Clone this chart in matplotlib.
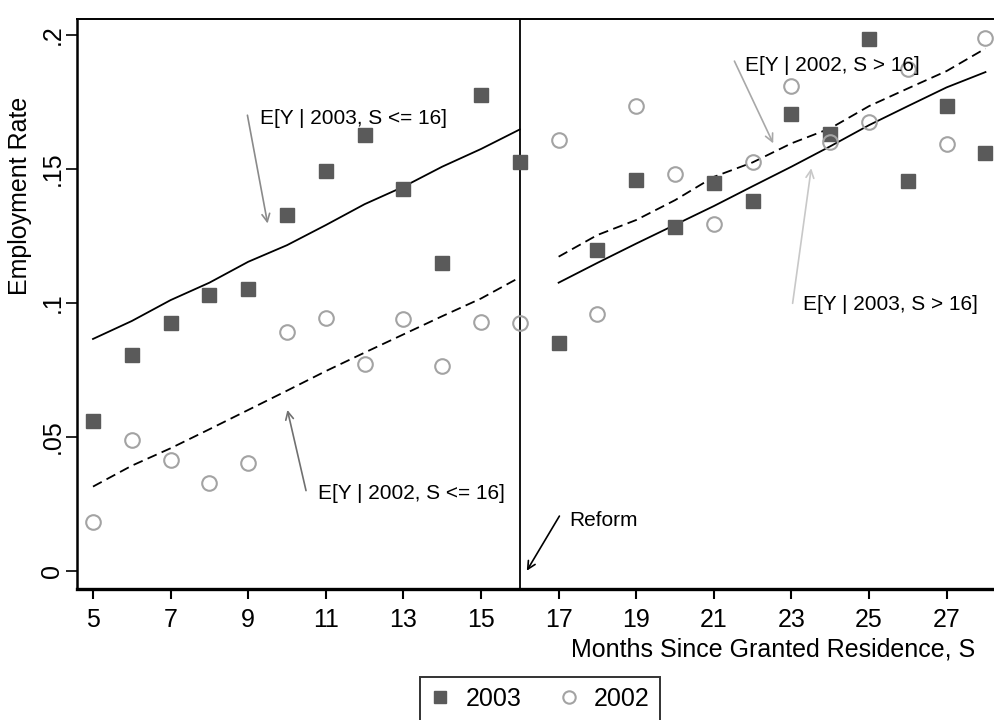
import matplotlib
matplotlib.use("Agg")
import matplotlib.pyplot as plt

plt.rcParams['font.family'] = ['Liberation Sans', 'DejaVu Sans']

months = list(range(5, 29))
emp_2003 = [0.0561, 0.0806, 0.0927, 0.1031, 0.1053, 0.1328, 0.1491, 0.1626,
            0.1424, 0.1149, 0.1775, 0.1527, 0.0852, 0.1198, 0.1459, 0.1282,
            0.1449, 0.1381, 0.1705, 0.1631, 0.1984, 0.1455, 0.1735, 0.1560]
emp_2002 = [0.0182, 0.0490, 0.0413, 0.0327, 0.0402, 0.0892, 0.0945, 0.0774,
            0.0942, 0.0766, 0.0929, 0.0927, 0.1608, 0.0959, 0.1735, 0.1481,
            0.1295, 0.1526, 0.1810, 0.1602, 0.1675, 0.1872, 0.1593, 0.1990]

months_pre = list(range(5, 17))
fit_2003_pre = [0.0866, 0.0933, 0.1011, 0.1076, 0.1154, 0.1216, 0.1291,
                0.1369, 0.1434, 0.1509, 0.1575, 0.1648]
fit_2002_pre = [0.0315, 0.0393, 0.0458, 0.0529, 0.0601, 0.0673, 0.0746,
                0.0815, 0.0883, 0.0951, 0.1017, 0.1096]
months_post = list(range(17, 29))
fit_2003_post = [0.1076, 0.1150, 0.1222, 0.1292, 0.1362, 0.1436, 0.1509,
                 0.1585, 0.1664, 0.1735, 0.1805, 0.1862]
fit_2002_post = [0.1173, 0.1254, 0.1310, 0.1384, 0.1471, 0.1525, 0.1596,
                 0.1652, 0.1735, 0.1801, 0.1866, 0.1950]

xticks = [5, 7, 9, 11, 13, 15, 17, 19, 21, 23, 25, 27]
yticks = [0, 0.05, 0.1, 0.15, 0.2]
ytick_labels = ['0', '.05', '.1', '.15', '.2']
reform_month = 16

fig = plt.figure(figsize=(9.94, 7.2), dpi=100)
ax = fig.add_axes([77 / 994, 131 / 720, 917 / 994, 569.7 / 720])

sq_color = '#5a5a5a'
ci_color = '#a3a3a3'

ax.plot(months_pre, fit_2003_pre, color='black', lw=1.3, zorder=2)
ax.plot(months_pre, fit_2002_pre, color='black', lw=1.3, ls=(0, (5.5, 3)), zorder=2)
ax.plot(months_post, fit_2003_post, color='black', lw=1.3, zorder=2)
ax.plot(months_post, fit_2002_post, color='black', lw=1.3, ls=(0, (5.5, 3)), zorder=2)

ax.plot(months, emp_2003, ls='none', marker='s', ms=10, color=sq_color,
        mec=sq_color, label='2003', zorder=3)
ax.plot(months, emp_2002, ls='none', marker='o', ms=10.5, mfc='none',
        mec=ci_color, mew=1.5, label='2002', zorder=3)

ax.axvline(reform_month, color='black', lw=1.3, zorder=1)

ann_fs = 15
def note(text, xy, xytext, tx, ty, color):
    ax.annotate('', xy=xy, xytext=xytext,
                arrowprops=dict(arrowstyle='->', color=color, lw=1.2,
                                mutation_scale=14, shrinkA=0, shrinkB=0))
    ax.text(tx, ty, text, fontsize=ann_fs, ha='left', va='center')

note('E[Y | 2003, S <= 16]', (9.50, 0.1297), (8.98, 0.1701), 9.30, 0.1690, '#8a8a8a')
note('E[Y | 2002, S <= 16]', (10.01, 0.0601), (10.49, 0.0300), 10.81, 0.0290, '#707070')
note('E[Y | 2002, S > 16]', (22.53, 0.1596), (21.53, 0.1903), 21.80, 0.1888, '#a8a8a8')
note('E[Y | 2003, S > 16]', (23.51, 0.1503), (23.03, 0.0999), 23.29, 0.0993, '#c8c8c8')
note('Reform', (16.18, 0.0001), (17.02, 0.0205), 17.28, 0.0190, 'black')

ax.set_xlim(4.588, 28.22)
ax.set_ylim(-0.00672, 0.2059)
ax.set_xticks(xticks)
ax.set_xticklabels([str(t) for t in xticks], fontsize=18)
ax.set_yticks(yticks)
ax.set_yticklabels(ytick_labels, fontsize=18, rotation=90, va='center')
ax.tick_params(axis='x', direction='out', length=7, width=1.5, pad=7)
ax.tick_params(axis='y', direction='out', length=8, width=1.2, pad=1)

ax.spines['right'].set_visible(False)
ax.spines['left'].set_linewidth(1.8)
ax.spines['bottom'].set_linewidth(2.4)
ax.spines['top'].set_linewidth(1.4)

ax.set_ylabel('Employment Rate', fontsize=18)
ax.yaxis.set_label_coords(-0.049, 0.69)
fig.text(975 / 994, (720 - 649) / 720, 'Months Since Granted Residence, S',
         fontsize=18, ha='right', va='center')

leg = fig.legend(handles=ax.get_lines()[4:6], labels=['2003', '2002'],
                 loc='upper center', bbox_to_anchor=(540 / 994, 56 / 720),
                 ncol=2, fontsize=18, frameon=True, fancybox=False,
                 edgecolor='black', markerscale=0.85, handlelength=0.8,
                 handletextpad=0.6, columnspacing=1.5, borderpad=0.4)
leg.get_frame().set_linewidth(1.4)

fig.savefig('out.png', dpi=100)
